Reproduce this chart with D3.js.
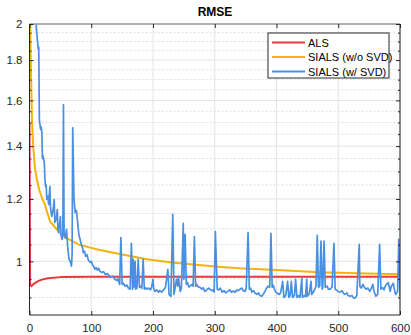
<!DOCTYPE html>
<html>
<head>
<meta charset="utf-8">
<script src="https://cdn.jsdelivr.net/npm/d3@7"></script>
<style>
  body { margin: 0; background: #fff; }
  text { font-family: "Liberation Sans", Arial, sans-serif; }
</style>
</head>
<body>
<div id="chart"></div>
<script>
// values: [iteration, rmse]
const alsData = [[0,1.50],[1,0.935],[3,0.930],[6,0.935],[10,0.940],[14,0.944],[20,0.948],[30,0.952],[50,0.955],[100,0.956],[300,0.956],[600,0.956]];
const sialsNoSvd = [[0,3.0],[1,2.1],[2,1.80],[4,1.51],[6,1.40],[9,1.31],[12,1.27],[16,1.23],[20,1.205],[25,1.18],[33,1.125],[40,1.108],[50,1.085],[60,1.07],[80,1.05],[110,1.035],[150,1.02],[190,1.006],[230,0.997],[270,0.99],[310,0.984],[340,0.980],[400,0.975],[470,0.969],[530,0.966],[600,0.963]];
const sialsSvd = [
  [8,2.8],[11,1.98],[13,1.90],[14,1.86],[15,1.87],[16,1.51],[17,1.49],[18,1.47],[19,1.48],[20,1.456],[21,1.35],[22,1.36],[24,1.334],
  [25,1.27],[26,1.244],[27,1.25],[28,1.198],[30,1.21],[31,1.18],[33,1.244],[34,1.17],[36,1.14],[38,1.16],[40,1.198],[41,1.12],
  [43,1.13],[45,1.163],[46,1.10],[47,1.088],[49,1.12],[50,1.14],[51,1.08],[53,1.066],[54,1.08],
  [55,1.58],[56,1.088],[58,1.07],[60,1.098],[62,1.04],[64,1.006],[66,1.0],[68,0.986],[69,1.02],[70,1.477],[72,1.20],[74,1.153],
  [76,1.16],[77,1.14],[79,1.10],[80,1.08],[82,1.066],[84,1.05],[86,1.04],[87,1.026],[89,1.03],[91,1.015],[93,1.02],[95,1.005],
  [98,0.997],[100,1.0],[102,0.99],[104,0.985],[106,0.977],[108,0.982],[110,0.975],[112,0.98],[114,0.972],[117,0.968],[120,0.97],
  [123,0.962],[126,0.965],[130,0.957],[133,0.955],[135,0.958],[138,0.949],[141,0.946],[143,0.95],[146,0.935],[148,1.072],[150,0.935],
  [152,0.938],[155,0.93],[158,0.933],[160,0.925],[163,0.922],[165,1.054],[167,0.922],[168,1.006],[169,0.927],[171,1.0],[172,0.922],
  [174,0.925],[176,1.006],[178,0.927],[180,0.93],[182,0.924],[184,1.006],[186,0.922],[188,0.926],[190,0.922],[193,0.925],[196,0.92],
  [198,0.93],[200,0.949],[201,0.925],[203,0.916],[206,0.92],[209,0.914],[211,0.918],[214,0.914],[217,0.92],[220,0.926],[222,0.949],
  [224,0.977],[226,0.908],[229,0.903],[232,1.147],[234,0.908],[236,0.927],[238,0.949],[240,0.93],[241,0.957],[243,0.93],[244,0.916],
  [246,0.925],[249,1.117],[250,0.949],[252,1.082],[254,0.935],[256,0.94],[258,0.928],[260,0.93],[263,0.935],[265,0.93],
  [267,1.075],[269,0.93],[271,0.935],[273,0.928],[276,0.927],[279,0.922],[281,0.926],[284,0.916],[287,0.92],[290,0.925],[292,0.922],
  [295,0.918],[297,0.92],[299,0.914],[301,1.091],[304,0.922],[306,0.92],[309,0.925],[312,0.914],[315,0.918],[318,0.912],[321,0.916],
  [324,0.92],[327,0.914],[330,0.917],[333,0.914],[336,0.92],[338,0.918],[341,0.922],[344,0.925],[346,0.918],[349,0.916],[351,0.925],
  [354,1.088],[356,0.922],[358,0.925],[360,0.914],[363,0.918],[365,0.912],[368,0.908],[371,0.912],[373,0.905],[376,0.903],[379,0.91],
  [381,0.915],[383,0.922],[386,0.93],[389,0.927],[391,1.085],[393,0.927],[395,0.932],[397,0.92],[399,0.914],[402,0.91],[405,0.908],
  [407,0.915],[410,0.943],[412,0.90],[415,0.905],[418,0.943],[420,0.90],[422,0.905],[424,0.943],[426,0.90],[429,0.905],
  [431,0.949],[433,0.90],[436,0.905],[438,0.9],[441,0.951],[442,0.90],[445,0.905],[447,0.902],[449,0.949],[450,0.903],[453,0.91],
  [456,0.943],[457,0.908],[460,0.915],[462,0.922],[464,0.93],[466,1.079],[468,0.927],[470,0.93],[472,1.061],[474,0.922],[475,0.928],
  [477,1.061],[479,0.927],[482,0.93],[484,0.922],[487,0.922],[490,0.928],[493,1.054],[495,0.922],[497,0.92],[500,0.915],[503,0.914],
  [506,0.918],[509,0.91],[511,0.908],[514,0.912],[516,0.905],[519,0.903],[522,0.905],[524,0.9],[527,0.898],[530,0.905],[534,1.051],
  [535,0.93],[537,0.925],[540,0.935],[542,0.928],[545,0.922],[548,0.925],[551,0.916],[553,0.922],[556,0.935],[558,0.915],[561,0.903],
  [564,0.91],[567,1.051],[569,0.922],[572,0.926],[574,0.92],[576,0.93],[578,0.935],[581,0.94],[583,0.925],[584,0.916],[586,0.93],
  [589,0.938],[591,0.92],[593,0.908],[596,0.915],[598,1.066],[600,0.903]
];
const seriesNames = ['ALS', 'SIALS (w/o SVD)', 'SIALS (w/ SVD)'];
const xTicks = [0, 100, 200, 300, 400, 500, 600];
const yTicks = [1, 1.2, 1.4, 1.6, 1.8, 2];
const yMinor = [0.9, 0.95, 1.05, 1.1, 1.15, 1.25, 1.3, 1.35, 1.45, 1.5, 1.55, 1.65, 1.7, 1.75, 1.85, 1.9, 1.95];

const W = 411, H = 335;
const pl = 29.5, pr = 400, pt = 24, pb = 315;
const colors = ['#e8393a', '#f6b20f', '#4a90e2'];

const svg = d3.select('#chart').append('svg').attr('width', W).attr('height', H);

const x = d3.scaleLinear().domain([0, 600]).range([pl, pr]);
const y = d3.scaleLog().domain([0.855, 2]).range([pb, pt]);

// grid
const grid = svg.append('g');
grid.selectAll('.ymin').data(yMinor).enter().append('line')
  .attr('x1', pl).attr('x2', pr)
  .attr('y1', d => y(d)).attr('y2', d => y(d))
  .attr('stroke', '#dcdcdc').attr('stroke-width', 1).attr('stroke-dasharray', '2,2');
grid.selectAll('.ymaj').data(yTicks).enter().append('line')
  .attr('x1', pl).attr('x2', pr)
  .attr('y1', d => y(d)).attr('y2', d => y(d))
  .attr('stroke', '#e3e3e3').attr('stroke-width', 1);
grid.selectAll('.xmaj').data(xTicks).enter().append('line')
  .attr('y1', pt).attr('y2', pb)
  .attr('x1', d => x(d)).attr('x2', d => x(d))
  .attr('stroke', '#e3e3e3').attr('stroke-width', 1);

svg.append('clipPath').attr('id', 'clip').append('rect')
  .attr('x', pl).attr('y', pt).attr('width', pr - pl).attr('height', pb - pt);

const line = d3.line().x(d => x(d[0])).y(d => y(d[1]));
const plot = svg.append('g').attr('clip-path', 'url(#clip)');
[alsData, sialsNoSvd, sialsSvd].forEach((data, i) => {
  plot.append('path').datum(data)
    .attr('fill', 'none')
    .attr('stroke', colors[i])
    .attr('stroke-width', i === 2 ? 1.7 : 2)
    .attr('stroke-linejoin', 'round')
    .attr('d', line);
});

// axes (ticks inward, box on)
const axisColor = '#262626';
const ax = svg.append('g');
ax.append('line').attr('x1', pl).attr('x2', pr).attr('y1', pt).attr('y2', pt).attr('stroke', '#9a9a9a').attr('stroke-width', 1.5);
ax.append('line').attr('x1', pr).attr('x2', pr).attr('y1', pt).attr('y2', pb).attr('stroke', axisColor);
ax.append('line').attr('x1', pl).attr('x2', pl).attr('y1', pt).attr('y2', pb).attr('stroke', axisColor);
ax.append('line').attr('x1', pl).attr('x2', pr).attr('y1', pb).attr('y2', pb).attr('stroke', axisColor);

const xAxisG = svg.append('g').attr('transform', `translate(0,${pb})`)
  .call(d3.axisBottom(x).tickValues(xTicks).tickSize(-4).tickPadding(9).tickFormat(d3.format('d')));
const xTopG = svg.append('g').attr('transform', `translate(0,${pt})`)
  .call(d3.axisTop(x).tickValues(xTicks).tickSize(-4).tickFormat(''));
const yAxisG = svg.append('g').attr('transform', `translate(${pl},0)`)
  .call(d3.axisLeft(y).tickValues(yTicks).tickSize(-4).tickPadding(7).tickFormat(d3.format('~g')));
const yMinorG = svg.append('g').attr('transform', `translate(${pl},0)`)
  .call(d3.axisLeft(y).tickValues(yMinor).tickSize(-2).tickFormat(''));
const yRightG = svg.append('g').attr('transform', `translate(${pr},0)`)
  .call(d3.axisRight(y).tickValues(yTicks).tickSize(-4).tickFormat(''));
const yRightMinor = svg.append('g').attr('transform', `translate(${pr},0)`)
  .call(d3.axisRight(y).tickValues(yMinor).tickSize(-2).tickFormat(''));

[xAxisG, xTopG, yAxisG, yMinorG, yRightG, yRightMinor].forEach(g => {
  g.select('.domain').remove();
  g.selectAll('line').attr('stroke', axisColor);
  g.selectAll('text').attr('fill', axisColor).style('font-size', '11.5px');
});

// title
svg.append('text').attr('x', 215).attr('y', 16).attr('text-anchor', 'middle')
  .style('font-size', '12px').style('font-weight', 'bold').attr('fill', '#000')
  .text('RMSE');

// legend
const lg = svg.append('g').attr('transform', 'translate(268,33)');
lg.append('rect').attr('width', 121).attr('height', 45)
  .attr('fill', '#fff').attr('stroke', '#262626').attr('stroke-width', 1);
seriesNames.forEach((name, i) => {
  const yy = 9.5 + i * 14.5;
  lg.append('line').attr('x1', 4).attr('x2', 37).attr('y1', yy).attr('y2', yy)
    .attr('stroke', colors[i]).attr('stroke-width', 2);
  lg.append('text').attr('x', 40).attr('y', yy + 4).style('font-size', '11px')
    .attr('fill', '#000').text(name);
});
</script>
</body>
</html>
